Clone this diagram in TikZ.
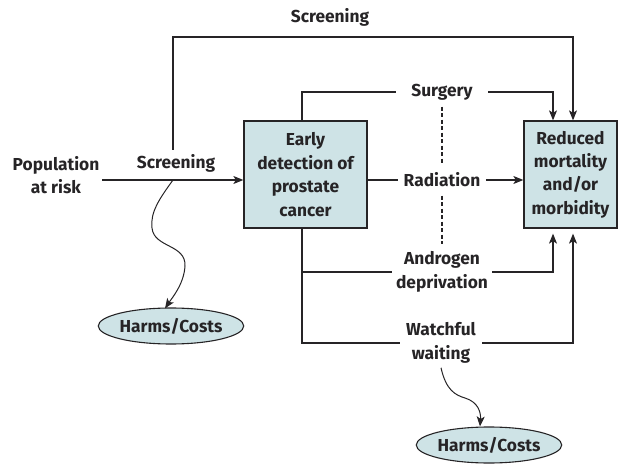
\documentclass[tikz,border=0pt]{standalone}
\usepackage{fontspec}
\setmainfont{Fira Sans}
\usetikzlibrary{arrows.meta,shapes.geometric,calc}
\definecolor{boxfill}{RGB}{206,227,230}
\definecolor{ink}{RGB}{38,36,38}
\begin{document}
\begin{tikzpicture}[x=1bp,y=-1bp, line width=1.1bp, draw=ink,
  every node/.style={font=\fontsize{17.4}{23.5}\selectfont\bfseries, text=ink, align=center, inner sep=0bp},
  boxnode/.style={draw=ink, fill=boxfill, minimum height=107bp, line width=1.3bp},
  blob/.style={ellipse, draw=ink, fill=boxfill, minimum width=138bp, minimum height=36bp, line width=1.1bp},
  arr/.style={-{Stealth[length=10bp,width=8bp,inset=2.5bp]}},
  dashline/.style={dash pattern=on 4bp off 2.5bp, line width=1.2bp}]
\useasboundingbox (0,0) rectangle (619,468);

% boxes
\node[boxnode, minimum width=123bp] (early) at (305.5,174.5) {Early\\detection of\\prostate\\cancer};
\node[boxnode, minimum width=93bp] (reduced) at (570.5,174.5) {Reduced\\mortality\\and/or\\morbidity};
\node[blob] (harmsA) at (171,326) {Harms/Costs};
\node[blob] (harmsB) at (489,445) {Harms/Costs};

% labels
\node (scrtop) at (330,17) {Screening};
\node (scrleft) at (176,163) {Screening};
\node (pop) at (56,175) {Population\\at risk};
\node[inner xsep=15bp, inner ysep=6bp] (surgery) at (442,92) {Surgery};
\node[inner xsep=5bp, inner ysep=8bp] (radiation) at (442,180) {Radiation};
\node[inner xsep=4bp, inner ysep=5bp] (androgen) at (442,272) {Androgen\\deprivation};
\node[inner xsep=6bp, inner ysep=4bp] (watchful) at (441,343) {Watchful\\waiting};

% coordinates
\coordinate (tl) at (173,37);
\coordinate (scrfoot) at (173,150);
\coordinate (branch) at ($(early.south)+(-3.5,0)$);
\coordinate (popend) at (102,180);
\coordinate (wave) at (173,180);

% top screening path
\draw[arr] (scrfoot) -- (tl) -| ($(reduced.north)+(2.5,0)$);
% population arrow
\draw[arr] (popend) -- (early.west |- popend);
% surgery
\draw ($(early.north)+(-3.5,0)$) |- (surgery.west);
\draw[arr] (surgery.east) -| ($(reduced.north)+(-17.5,0)$);
% radiation
\draw (early.east |- radiation) -- (radiation.west);
\draw[arr] (radiation.east) -- (reduced.west |- radiation);
% androgen and watchful waiting
\draw (branch) |- (watchful.west);
\draw (branch |- androgen) -- (androgen.west);
\draw[arr] (androgen.east) -| ($(reduced.south)+(-17.5,5)$);
\draw[arr] (watchful.east) -| ($(reduced.south)+(2.5,5)$);
% dashed separators
\draw[dashline] (surgery.south) -- (radiation.north);
\draw[dashline] (radiation.south) -- ($(androgen.north)+(0,-2)$);
% wavy arrows to harms
\draw[arr, line width=1bp] (wave) .. controls (160,198) and (150,212) .. (152,228)
  .. controls (154,248) and (186,244) .. (185,266)
  .. controls (184,284) and (172,298) .. ($(harmsA.north)+(-6,1)$);
\draw[arr, line width=1bp] (watchful.south) .. controls (446,390) and (455,395) .. (465,398)
  .. controls (478,402) and (481,412) .. ($(harmsB.north)+(-9,0)$);
\end{tikzpicture}
\end{document}
